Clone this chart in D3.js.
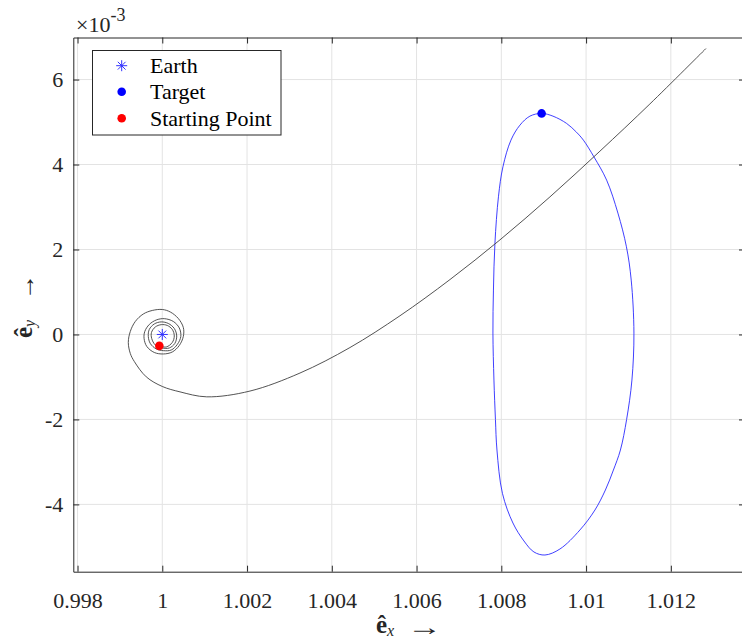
<!DOCTYPE html>
<html>
<head>
<meta charset="utf-8">
<script src="https://cdn.jsdelivr.net/npm/d3@7"></script>
<style>
  body { margin: 0; background: #fff; }
  svg { display: block; font-family: "Liberation Serif", "Times New Roman", serif; }
</style>
</head>
<body>
<svg class="chart" width="742" height="643"></svg>
<script>
"use strict";

// x in DU, y in units of 1e-3 DU (axis shows x10^-3)
const xTicks = [0.998, 1, 1.002, 1.004, 1.006, 1.008, 1.01, 1.012];
const xTickLabels = ["0.998", "1", "1.002", "1.004", "1.006", "1.008", "1.01", "1.012"];
const yTicks = [-4, -2, 0, 2, 4, 6];
const yTickLabels = ["-4", "-2", "0", "2", "4", "6"];

// transfer trajectory (black): spiral around Earth, then out to the upper right
const transferX = [
  0.99993, 1.000094, 1.000236, 1.000283, 1.000236, 1.000118, 0.999976, 0.999835, 0.999745, 0.99975, 0.999835, 1.0,
  1.000165, 1.000295, 1.00034, 1.000283, 1.000142, 0.999976, 0.999811, 0.999693, 0.99967, 0.999717, 0.999858, 1.000024,
  1.000212, 1.000354, 1.000437, 1.000401, 1.00026, 1.000047, 0.999858, 0.999693, 0.999587, 0.99957, 0.999634, 0.999811,
  1.000024, 1.000236, 1.000401, 1.000496, 1.000496,
  1.000378, 1.000189, 1.0, 0.999764, 0.999552, 0.999363, 0.999245, 0.999198, 0.999245, 0.999339, 0.999622, 1.0,
  1.000418, 1.001048,
  1.002069, 1.003249, 1.004428, 1.005608, 1.006788, 1.007967, 1.009147, 1.010327, 1.011506, 1.012828
];
const transferY = [
  -0.268, -0.294, -0.188, -0.035, 0.118, 0.212, 0.231, 0.176, 0.047, -0.094, -0.247, -0.318,
  -0.318, -0.212, -0.035, 0.141, 0.259, 0.296, 0.247, 0.118, -0.047, -0.212, -0.341, -0.381,
  -0.365, -0.235, -0.047, 0.153, 0.306, 0.372, 0.341, 0.235, 0.071, -0.094, -0.282, -0.424,
  -0.459, -0.412, -0.259, -0.047, 0.165,
  0.376, 0.529, 0.588, 0.565, 0.482, 0.306, 0.071, -0.188, -0.447, -0.635, -0.998, -1.224,
  -1.351, -1.468,
  -1.332, -0.908, -0.308, 0.44, 1.292, 2.226, 3.238, 4.315, 5.426, 6.73
];

// target orbit (blue, closed)
const orbitX = [
  1.008951, 1.009218, 1.009541, 1.009772, 1.009937, 1.010185, 1.010485, 1.010751, 1.010952, 1.011065,
  1.011129, 1.011082, 1.010957, 1.01081, 1.010645, 1.010456, 1.010209, 1.009855, 1.009383, 1.009029,
  1.00877, 1.008534, 1.008274, 1.008026, 1.007897, 1.007861, 1.007826, 1.007802, 1.007814,
  1.007849, 1.007932, 1.008038, 1.008227, 1.008439, 1.008675
];
const orbitY = [
  5.203, 5.139, 4.967, 4.762, 4.574, 4.181, 3.633, 2.857, 2.064, 1.28,
  0.033, -1.073, -1.998, -2.72, -3.191, -3.661, -4.132, -4.602, -5.05, -5.191,
  -5.12, -4.861, -4.438, -3.739, -2.72, -1.998, -1.073, 0.033, 1.045,
  2.144, 3.24, 3.946, 4.574, 4.927, 5.139
];

const earthPoint = [1, 0];
const targetPoint = [1.008951, 5.203];
const startPoint = [0.99993, -0.268];
const legendLabels = ["Earth", "Target", "Starting Point"];

const svg = d3.select(".chart");
const plotLeft = 73.3, plotRight = 745, plotTop = 37.5, plotBottom = 571.7;

const x = d3.scaleLinear().domain([0.9979, 1.01375]).range([plotLeft, plotRight]);
const y = d3.scaleLinear().domain([-5.584, 6.99]).range([plotBottom, plotTop]);

svg.append("defs").append("clipPath").attr("id", "plot")
  .append("rect").attr("x", plotLeft).attr("y", plotTop)
  .attr("width", plotRight - plotLeft).attr("height", plotBottom - plotTop);

// grid
const grid = svg.append("g").attr("stroke", "#e3e3e3").attr("stroke-width", 1);
grid.selectAll("line.gx").data(xTicks).enter().append("line")
  .attr("x1", (d) => x(d)).attr("x2", (d) => x(d))
  .attr("y1", plotTop).attr("y2", plotBottom);
grid.selectAll("line.gy").data(yTicks).enter().append("line")
  .attr("x1", plotLeft).attr("x2", plotRight)
  .attr("y1", (d) => y(d)).attr("y2", (d) => y(d));

// curves
const plot = svg.append("g").attr("clip-path", "url(#plot)");

const transfer = transferX.map((v, i) => [v, transferY[i]]);
const orbit = orbitX.map((v, i) => [v, orbitY[i]]);

plot.append("path")
  .datum(orbit)
  .attr("d", d3.line().x((d) => x(d[0])).y((d) => y(d[1])).curve(d3.curveCatmullRomClosed))
  .attr("fill", "none").attr("stroke", "#2a2aff").attr("stroke-width", 0.9);

plot.append("path")
  .datum(transfer)
  .attr("d", d3.line().x((d) => x(d[0])).y((d) => y(d[1])).curve(d3.curveCatmullRom))
  .attr("fill", "none").attr("stroke", "#404040").attr("stroke-width", 0.9);

function asterisk(g, cx, cy, r) {
  const a = r * Math.SQRT1_2;
  const segs = [[-r, 0, r, 0], [0, -r, 0, r], [-a, -a, a, a], [-a, a, a, -a]];
  g.selectAll(null).data(segs).enter().append("line")
    .attr("x1", (d) => cx + d[0]).attr("y1", (d) => cy + d[1])
    .attr("x2", (d) => cx + d[2]).attr("y2", (d) => cy + d[3])
    .attr("stroke", "#3030ff").attr("stroke-width", 1);
}

asterisk(plot, x(earthPoint[0]), y(earthPoint[1]), 5.5);
plot.append("circle").attr("cx", x(targetPoint[0])).attr("cy", y(targetPoint[1]))
  .attr("r", 4.3).attr("fill", "#0000ff");
plot.append("circle").attr("cx", x(startPoint[0])).attr("cy", y(startPoint[1]))
  .attr("r", 4.3).attr("fill", "#ff0000");

// axes
const axisColor = "#262626";
const styleAxis = (g) => {
  g.select(".domain").attr("stroke", axisColor);
  g.selectAll(".tick line").attr("stroke", axisColor);
  g.selectAll(".tick text").attr("fill", axisColor)
    .attr("font-size", 22).attr("font-family", "Liberation Serif, serif");
};

svg.append("g").attr("transform", `translate(0,${plotBottom})`)
  .call(d3.axisBottom(x).tickValues(xTicks).tickFormat((d, i) => xTickLabels[i])
    .tickSize(-6).tickSizeOuter(0).tickPadding(21))
  .call(styleAxis);
svg.append("g").attr("transform", `translate(0,${plotTop})`)
  .call(d3.axisTop(x).tickValues(xTicks).tickFormat("").tickSize(-6).tickSizeOuter(0))
  .call(styleAxis);
svg.append("g").attr("transform", `translate(${plotLeft},0)`)
  .call(d3.axisLeft(y).tickValues(yTicks).tickFormat((d, i) => yTickLabels[i])
    .tickSize(-6).tickSizeOuter(0).tickPadding(10))
  .call(styleAxis);
svg.append("g").attr("transform", `translate(${plotRight},0)`)
  .call(d3.axisRight(y).tickValues(yTicks).tickFormat("").tickSize(-6).tickSizeOuter(0))
  .call(styleAxis);

// exponent
const expo = svg.append("text").attr("x", 76).attr("y", 32)
  .attr("font-size", 22).attr("fill", axisColor);
expo.append("tspan").text("\u00d710");
expo.append("tspan").attr("dy", -11).attr("font-size", 18).text("-3");

// axis labels: bold e-hat, italic subscript, long thin arrow (stretched horizontally)
function axisLabel(g, sub, arrowX, arrowLen) {
  const t = g.append("text").attr("font-size", 25).attr("fill", axisColor);
  t.append("tspan").attr("font-weight", "bold").text("\u00ea");
  t.append("tspan").attr("dy", 3).attr("font-size", 16).attr("font-style", "italic").text(sub);
  const arrow = g.append("text").attr("font-size", 24).attr("fill", axisColor).text("\u2192");
  const w = arrow.node().getComputedTextLength() || arrowLen;
  arrow.attr("transform", `translate(${arrowX},2) scale(${arrowLen / w},1)`);
}
axisLabel(svg.append("g").attr("transform", "translate(376,633)"), "x", 31, 35);
axisLabel(svg.append("g").attr("transform", "translate(32,338) rotate(-90)"), "y", 38, 26);

// legend
const legend = svg.append("g");
legend.append("rect").attr("x", 92.5).attr("y", 50.5).attr("width", 188.5).attr("height", 84.5)
  .attr("fill", "#fff").attr("stroke", axisColor).attr("stroke-width", 1);
const rowY = [65.7, 91.7, 118.3];
asterisk(legend, 121.7, rowY[0], 5.5);
legend.append("circle").attr("cx", 121.7).attr("cy", rowY[1]).attr("r", 4.3).attr("fill", "#0000ff");
legend.append("circle").attr("cx", 121.7).attr("cy", rowY[2]).attr("r", 4.3).attr("fill", "#ff0000");
legend.selectAll("text.lab").data(legendLabels).enter().append("text")
  .attr("x", 150).attr("y", (d, i) => rowY[i] + 7.5)
  .attr("font-size", 22).attr("fill", "#000").text((d) => d);
</script>
</body>
</html>
